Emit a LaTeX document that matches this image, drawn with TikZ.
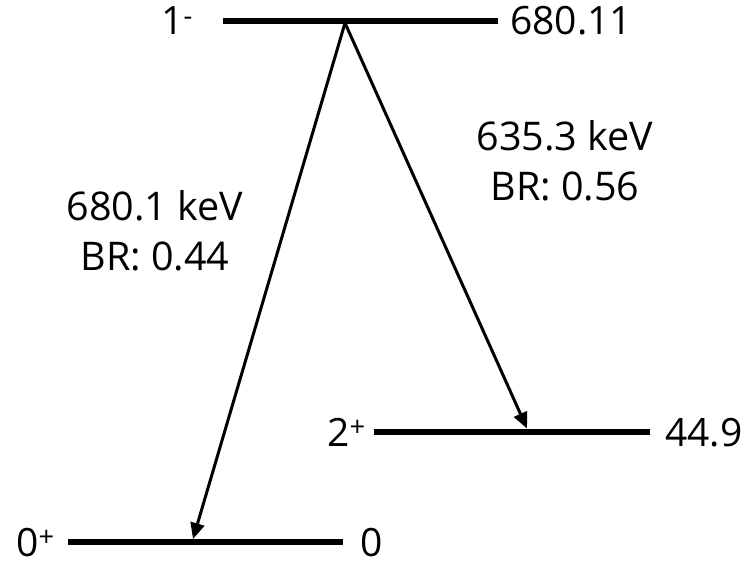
\documentclass[tikz,border=0pt]{standalone}
\usepackage{fontspec}
\setmainfont{Open Sans}
\usetikzlibrary{arrows.meta}
\begin{document}
\begin{tikzpicture}[x=1pt,y=-1pt,
  level/.style={line width=6.5pt},
  trans/.style={line width=3pt,-{Triangle[length=16pt,width=14pt]}},
  lbl/.style={font=\fontsize{39}{50}\selectfont,inner sep=0pt},
  tlbl/.style={font=\fontsize{39.5}{50}\selectfont,inner sep=0pt,align=center,anchor=base}]
\useasboundingbox (0,0) rectangle (743,564);
% levels
\coordinate (L1a) at (223,21);  \coordinate (L1b) at (498,21);
\coordinate (L2a) at (374,432); \coordinate (L2b) at (650,432);
\coordinate (L0a) at (68,542);  \coordinate (L0b) at (343,542);
\draw[level] (L1a) -- (L1b);
\draw[level] (L2a) -- (L2b);
\draw[level] (L0a) -- (L0b);
% level labels
\node[lbl,anchor=base east] (s1) at (193,35) {1\textsuperscript{-}};
\node[lbl,anchor=base west] (e1) at (510,35) {680.11};
\node[lbl,anchor=base east] (s2) at (366,446) {2\textsuperscript{+}};
\node[lbl,anchor=base west] (e2) at (665,446) {44.9};
\node[lbl,anchor=base east] (s0) at (55,556) {0\textsuperscript{+}};
\node[lbl,anchor=base west] (e0) at (360,556) {0};
% transitions
\coordinate (start) at (345,23);
\coordinate (endG) at (193,539);
\coordinate (endE) at (527,428.5);
\draw[trans] (start) -- (endG);
\draw[trans] (start) -- (endE);
% transition labels
\node[tlbl] (t1a) at (155,220) {680.1 keV};
\node[tlbl] (t1b) at (155,270) {BR: 0.44};
\node[tlbl] (t2a) at (565,150) {635.3 keV};
\node[tlbl] (t2b) at (565,200) {BR: 0.56};
\end{tikzpicture}
\end{document}
